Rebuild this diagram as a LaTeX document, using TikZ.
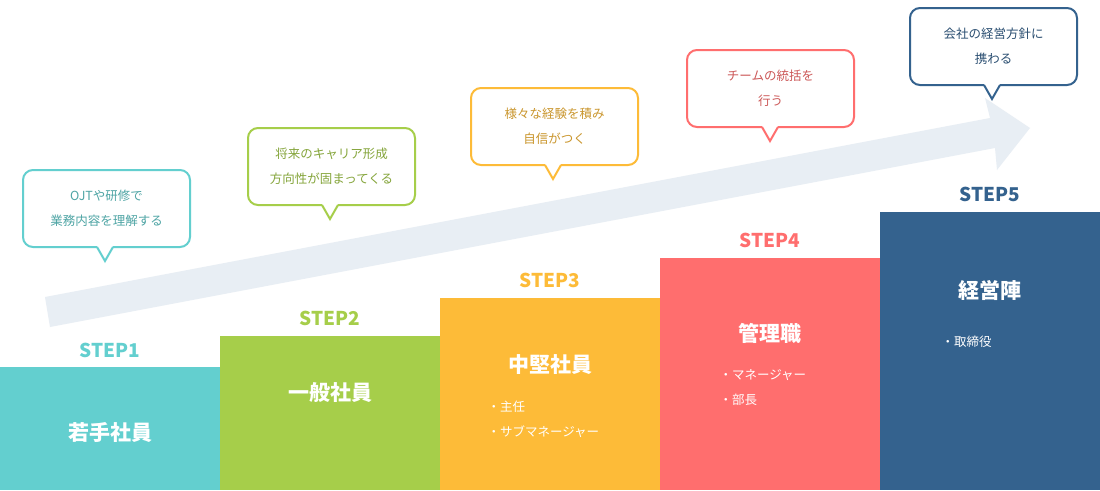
\documentclass[tikz,border=0pt]{standalone}
\usepackage{fontspec}
\setmainfont{Noto Sans CJK JP}
\usetikzlibrary{arrows.meta}
\definecolor{cA}{HTML}{63CFCF}
\definecolor{cB}{HTML}{A6CE4A}
\definecolor{cC}{HTML}{FDBB38}
\definecolor{cD}{HTML}{FF6E6E}
\definecolor{cE}{HTML}{34628E}
\definecolor{arr}{HTML}{E8EEF4}
\tikzset{
 steplbl/.style={font=\bfseries\fontsize{19}{20}\selectfont},
 title/.style={text=white,font=\bfseries\fontsize{21}{22}\selectfont},
 bul/.style={text=white,anchor=west,font=\fontsize{12.5}{14}\selectfont},
 bub/.style={draw=#1,line width=2pt,fill=white,rounded corners=10pt,minimum width=167pt,minimum height=77pt,text=#1!80!black,align=center,font=\fontsize{12.5}{25}\selectfont}
}
\newcommand{\bubble}[6]{% name, color, cx, cy, tailx, text
 \node[bub=#2] (#1) at (#3,#4) {#6};
 \fill[white] (#5-8,#4+37.5) -- (#5,#4+38.5+14) -- (#5+8,#4+37.5) -- cycle;
 \draw[#2,line width=2pt,line join=miter] (#5-8,#4+38.5) -- (#5,#4+38.5+14) -- (#5+8,#4+38.5);
}
\begin{document}
\begin{tikzpicture}[x=1pt,y=-1pt]
\useasboundingbox (0,0) rectangle (1100,490);
\fill[white] (0,0) rectangle (1100,490);
% arrow
\fill[arr] (45,297) -- (990,118) -- (985,98) -- (1030,128) -- (997,170) -- (995,148) -- (50,327) -- cycle;
% steps
\fill[cA] (0,367) rectangle (220,490);
\fill[cB] (220,336) rectangle (440,490);
\fill[cC] (440,298) rectangle (660,490);
\fill[cD] (660,258) rectangle (880,490);
\fill[cE] (880,212) rectangle (1100,490);
\node[steplbl,text=cA] (s1) at (110,350) {STEP1};
\node[steplbl,text=cB] (s2) at (330,318) {STEP2};
\node[steplbl,text=cC] (s3) at (550,280) {STEP3};
\node[steplbl,text=cD] (s4) at (770,240) {STEP4};
\node[steplbl,text=cE] (s5) at (990,194) {STEP5};
\node[title] (t1) at (110,432) {若手社員};
\node[title] (t2) at (330,393) {一般社員};
\node[title] (t3) at (550,365) {中堅社員};
\node[title] (t4) at (770,333) {管理職};
\node[title] (t5) at (990,290) {経営陣};
\node[bul] (b31) at (484,407) {・主任};
\node[bul] (b32) at (484,432) {・サブマネージャー};
\node[bul] (b41) at (716,375) {・マネージャー};
\node[bul] (b42) at (716,400) {・部長};
\node[bul] (b51) at (938,342) {・取締役};
% bubbles
\bubble{q1}{cA}{106.5}{208.5}{105}{OJTや研修で\\業務内容を理解する}
\bubble{q2}{cB}{331.5}{166.5}{330}{将来のキャリア形成\\方向性が固まってくる}
\bubble{q3}{cC}{554.5}{126.5}{553}{様々な経験を積み\\自信がつく}
\bubble{q4}{cD}{770.5}{88.5}{770}{チームの統括を\\行う}
\bubble{q5}{cE}{993.5}{46.5}{992}{会社の経営方針に\\携わる}
\end{tikzpicture}
\end{document}
